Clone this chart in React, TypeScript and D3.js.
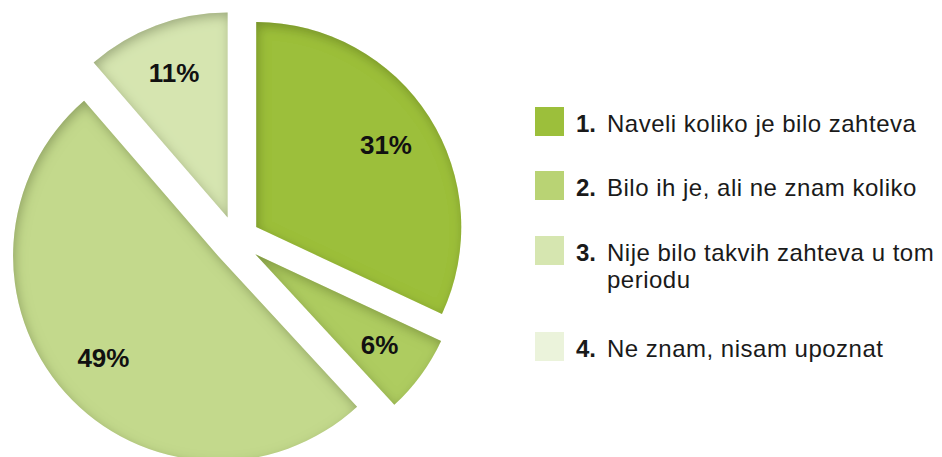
import React from "react";
import * as d3 from "d3";

const values = [31, 6, 49, 11];
const valueLabels = ["31%", "6%", "49%", "11%"];
const sliceColors = ["#9cbf3b", "#aecc60", "#c3d98c", "#d6e5b0"];

const legendNumbers = ["1.", "2.", "3.", "4."];
const legendLines = [
  ["Naveli koliko je bilo zahteva"],
  ["Bilo ih je, ali ne znam koliko"],
  ["Nije bilo takvih zahteva u tom", "periodu"],
  ["Ne znam, nisam upoznat"],
];
const legendColors = ["#9cbf3b", "#b9d374", "#d6e6b0", "#ebf3db"];

const W = 942;
const H = 457;
const cx = 236;
const cy = 240;
const R = 205;
const explode = 24;
const legendX = 535;
const legendRowsY = [107, 171, 236, 332];
const sq = 29;
const font = "'Liberation Sans', Arial, Helvetica, sans-serif";

export default function App() {
  const pie = d3
    .pie<number>()
    .sort(null)
    .startAngle(0)
    .endAngle(2 * Math.PI)
    .value((d) => d);
  const arcs = pie(values);
  const arc = d3.arc<d3.PieArcDatum<number>>().innerRadius(0).outerRadius(R);
  const labelArc = d3
    .arc<d3.PieArcDatum<number>>()
    .innerRadius(R * 0.75)
    .outerRadius(R * 0.75);

  return (
    <svg
      width={W}
      height={H}
      style={{ position: "absolute", left: 0, top: 0, background: "#fff" }}
    >
      <defs>
        <filter id="inner" x="-20%" y="-20%" width="140%" height="140%">
          <feComponentTransfer in="SourceAlpha" result="inv">
            <feFuncA type="table" tableValues="1 0" />
          </feComponentTransfer>
          <feGaussianBlur in="inv" stdDeviation="6" result="blur" />
          <feOffset in="blur" dx="2" dy="4" result="off" />
          <feFlood floodColor="#3d4d12" floodOpacity="0.55" />
          <feComposite in2="off" operator="in" result="sh" />
          <feComposite in="sh" in2="SourceAlpha" operator="in" result="inner" />
          <feMerge>
            <feMergeNode in="SourceGraphic" />
            <feMergeNode in="inner" />
          </feMerge>
        </filter>
      </defs>
      {arcs.map((a, i) => {
        const mid = (a.startAngle + a.endAngle) / 2;
        const tx = cx + explode * Math.sin(mid);
        const ty = cy - explode * Math.cos(mid);
        const [lx, ly] = labelArc.centroid(a);
        return (
          <g key={i} transform={`translate(${tx},${ty})`}>
            <path d={arc(a) || ""} fill={sliceColors[i]} filter="url(#inner)" />
            <text
              x={lx}
              y={ly}
              textAnchor="middle"
              dominantBaseline="central"
              fontFamily={font}
              fontWeight="bold"
              fontSize={26}
              fill="#111"
            >
              {valueLabels[i]}
            </text>
          </g>
        );
      })}
      {legendNumbers.map((n, i) => (
        <g key={n}>
          <rect
            x={legendX}
            y={legendRowsY[i]}
            width={sq}
            height={sq}
            fill={legendColors[i]}
          />
          {legendLines[i].map((line, j) => (
            <text
              key={j}
              x={576}
              y={legendRowsY[i] + 25 + j * 27}
              fontFamily={font}
              fontSize={24}
              fill="#1a1a1a"
            >
              {j === 0 ? (
                <>
                  <tspan fontWeight="bold">{n}</tspan>
                  <tspan x={607} letterSpacing={0.5}>
                    {line}
                  </tspan>
                </>
              ) : (
                <tspan x={607} letterSpacing={0.5}>
                  {line}
                </tspan>
              )}
            </text>
          ))}
        </g>
      ))}
    </svg>
  );
}
